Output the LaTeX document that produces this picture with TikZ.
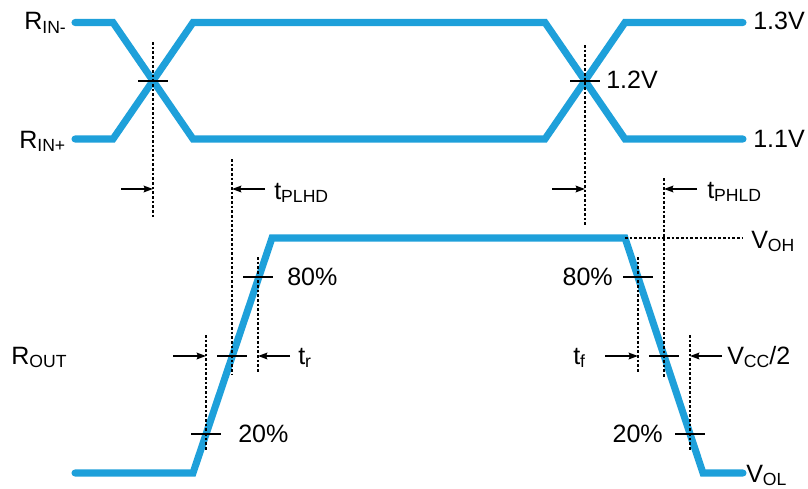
\documentclass[tikz,border=0pt]{standalone}
\usepackage{fontspec}
\setmainfont{Liberation Sans}
\usetikzlibrary{arrows.meta,calc}
\definecolor{wblue}{RGB}{30,160,218}
\newcommand\mysub[1]{\raisebox{-2.4pt}{\fontsize{13.2}{13}\selectfont #1}}
\begin{document}
\begin{tikzpicture}[x=0.75pt,y=-0.75pt,
  wave/.style={draw=wblue,line width=5.3pt,line cap=round},
  guide/.style={draw=black,line width=1.4pt,dash pattern=on 1.9pt off 1.6pt},
  tickln/.style={draw=black,line width=1.2pt},
  meas/.style={draw=black,line width=1.2pt,-{Stealth[length=7pt,width=5pt,inset=1pt]}},
  lbl/.style={inner sep=0pt,font=\fontsize{18.8}{20}\selectfont},
]
\useasboundingbox (0,0) rectangle (808,489);

% ---- input waveforms ----
\coordinate (a0) at (75,22.5);  \coordinate (a1) at (113,22.5);
\coordinate (a2) at (193,139);  \coordinate (a3) at (545,139);
\coordinate (a4) at (625,22.5); \coordinate (a5) at (743,22.5);
\coordinate (b0) at (75,139);   \coordinate (b1) at (113,139);
\coordinate (b2) at (193,22.5); \coordinate (b3) at (545,22.5);
\coordinate (b4) at (625,139);  \coordinate (b5) at (743,139);
\path[wave] (a0) -- (a1) -- (a2) -- (a3) -- (a4) -- (a5);
\path[wave] (b0) -- (b1) -- (b2) -- (b3) -- (b4) -- (b5);

% ---- output waveform ----
\coordinate (o0) at (75,473);  \coordinate (o1) at (193,473);
\coordinate (o2) at (272,238); \coordinate (o3) at (625,238);
\coordinate (o4) at (703,473); \coordinate (o5) at (743,473);
\path[wave] (o0) -- (o1) -- (o2) -- (o3) -- (o4) -- (o5);

% ---- crossing / level points ----
\coordinate (x1) at (153,81);
\coordinate (x2) at (585,81);
\coordinate (r80) at (258,277);
\coordinate (r50) at (232,356);
\coordinate (r20) at (206,434);
\coordinate (f80) at (638,277);
\coordinate (f50) at (664,356);
\coordinate (f20) at (690,434);

% ---- dotted guides ----
\coordinate (g1t) at (153,42);   \coordinate (g1b) at (153,218);
\coordinate (g2t) at (232,159);  \coordinate (g2b) at (232,375);
\coordinate (g3t) at (585,45);   \coordinate (g3b) at (585,226);
\coordinate (g4t) at (664,178);  \coordinate (g4b) at (664,377);
\coordinate (g5t) at (258,257);  \coordinate (g5b) at (258,372);
\coordinate (g6t) at (206,335);  \coordinate (g6b) at (206,450);
\coordinate (g7t) at (638,257);  \coordinate (g7b) at (638,372);
\coordinate (g8t) at (690,335);  \coordinate (g8b) at (690,450);
\coordinate (vohe) at (743,238);
\foreach \g in {1,...,8} \path[guide] (g\g t) -- (g\g b);
\path[guide] (o3) -- (vohe);

% ---- ticks ----
\foreach \p in {x1,x2,r80,r50,r20,f80,f50,f20}
  \path[tickln] ($(\p)+(-15,0)$) -- ($(\p)+(15,0)$);

% ---- measurement arrows ----
\coordinate (m1s) at (121,189);  \coordinate (m1e) at (153,189);
\coordinate (m2s) at (265,189);  \coordinate (m2e) at (232,189);
\coordinate (m3s) at (552,189);  \coordinate (m3e) at (585,189);
\coordinate (m4s) at (697,189);  \coordinate (m4e) at (664,189);
\coordinate (m5s) at (173,356);  \coordinate (m5e) at (206,356);
\coordinate (m6s) at (290,356);  \coordinate (m6e) at (258,356);
\coordinate (m7s) at (605,356);  \coordinate (m7e) at (638,356);
\coordinate (m8s) at (722,356);  \coordinate (m8e) at (690,356);
\foreach \m in {1,...,8} \path[meas] (m\m s) -- (m\m e);

% ---- labels ----
\node[lbl,anchor=base west] (lrinm) at (24,30) {R\mysub{IN-}};
\node[lbl,anchor=base west] (lrinp) at (19,148) {R\mysub{IN+}};
\node[lbl,anchor=base west] (l13) at (753,30) {1.3V};
\node[lbl,anchor=base west] (l11) at (753,147) {1.1V};
\node[lbl,anchor=base west] (l12) at (606,89) {1.2V};
\node[lbl,anchor=base west] (lplhd) at (274,199) {t\mysub{PLHD}};
\node[lbl,anchor=base west] (lphld) at (707,198) {t\mysub{PHLD}};
\node[lbl,anchor=base west] (lvoh) at (751,248) {V\mysub{OH}};
\node[lbl,anchor=base west] (lr80) at (287,285) {80\%};
\node[lbl,anchor=base west] (lrout) at (11,364) {R\mysub{OUT}};
\node[lbl,anchor=base west] (ltr) at (298,364) {t\mysub{r}};
\node[lbl,anchor=base west] (lr20) at (238,442) {20\%};
\node[lbl,anchor=base east] (lf80) at (613,285) {80\%};
\node[lbl,anchor=base west] (ltf) at (573,364) {t\mysub{f}};
\node[lbl,anchor=base west] (lvcc) at (727,364) {V\mysub{CC}/2};
\node[lbl,anchor=base east] (lf20) at (663,442) {20\%};
\node[lbl,anchor=base west] (lvol) at (746,482) {V\mysub{OL}};
\end{tikzpicture}
\end{document}
